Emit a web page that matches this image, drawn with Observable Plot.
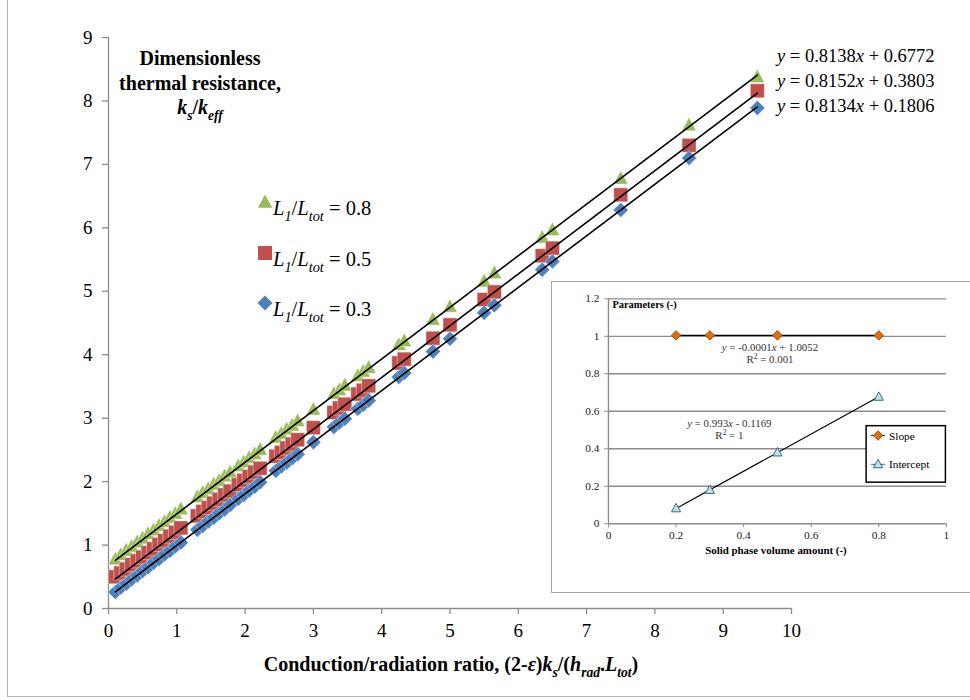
<!DOCTYPE html>
<html>
<head>
<meta charset="utf-8">
<script src="https://cdn.jsdelivr.net/npm/d3@7"></script>
<script src="https://cdn.jsdelivr.net/npm/@observablehq/plot@0.6"></script>
<style>
  html, body { margin: 0; padding: 0; background: #fff; overflow: hidden; }
  #wrap { position: relative; width: 970px; height: 700px; overflow: hidden; }
  #frame { position: absolute; left: 7px; top: -4px; width: 990px; height: 701px; border: 1.5px solid #b4b4b4; box-sizing: border-box; }
  #main { position: absolute; left: 0; top: 0; }
  #inset { position: absolute; left: 551px; top: 281px; width: 440px; height: 312px; border: 1.5px solid #a6a6a6; background: #fff; box-sizing: border-box; }
  #inset svg { position: absolute; left: -1.5px; top: -1.5px; }
</style>
</head>
<body>
<div id="wrap"><div id="frame"></div><div id="main"></div><div id="inset"></div></div>
<script>
const FONT = '"Liberation Serif", "Times New Roman", serif';

// ---------------- data: main chart ----------------
const xValues = [0.1, 0.18, 0.26, 0.34, 0.42, 0.5, 0.58, 0.66, 0.74, 0.82, 0.9, 0.98, 1.06,
  1.3, 1.38, 1.46, 1.54, 1.62, 1.7, 1.78, 1.9, 1.98, 2.06, 2.14, 2.22,
  2.45, 2.53, 2.61, 2.69, 2.77, 3.0, 3.3, 3.38, 3.46, 3.65, 3.73, 3.81,
  4.25, 4.33, 4.75, 5.0, 5.5, 5.65, 6.35, 6.5, 7.5, 8.5, 9.5];
const yRatio08 = [0.78, 0.85, 0.92, 0.98, 1.05, 1.11, 1.18, 1.24, 1.31, 1.37, 1.44, 1.50, 1.57,
  1.76, 1.83, 1.89, 1.96, 2.02, 2.09, 2.15, 2.25, 2.31, 2.38, 2.44, 2.51,
  2.70, 2.76, 2.83, 2.89, 2.96, 3.14, 3.39, 3.45, 3.52, 3.67, 3.74, 3.80,
  4.16, 4.22, 4.56, 4.76, 5.16, 5.29, 5.85, 5.97, 6.78, 7.62, 8.38];
const yRatio05 = [0.50, 0.56, 0.62, 0.69, 0.75, 0.81, 0.88, 0.94, 1.01, 1.07, 1.14, 1.20, 1.27,
  1.46, 1.53, 1.59, 1.66, 1.72, 1.79, 1.85, 1.95, 2.02, 2.08, 2.15, 2.21,
  2.40, 2.46, 2.53, 2.59, 2.66, 2.85, 3.09, 3.16, 3.22, 3.38, 3.44, 3.51,
  3.87, 3.93, 4.26, 4.47, 4.87, 4.99, 5.56, 5.68, 6.52, 7.30, 8.16];
const yRatio03 = [0.26, 0.33, 0.39, 0.46, 0.52, 0.59, 0.65, 0.72, 0.78, 0.85, 0.91, 0.98, 1.04,
  1.24, 1.30, 1.37, 1.43, 1.50, 1.56, 1.63, 1.73, 1.79, 1.86, 1.92, 1.99,
  2.17, 2.24, 2.30, 2.37, 2.43, 2.62, 2.86, 2.93, 2.99, 3.15, 3.21, 3.28,
  3.65, 3.71, 4.05, 4.25, 4.66, 4.78, 5.34, 5.47, 6.28, 7.10, 7.89];
const seriesNames = ["0.8", "0.5", "0.3"];
const seriesColors = ["#9bbb59", "#c0504d", "#4f81bd"];
const fitSlopes = [0.8138, 0.8152, 0.8134];
const fitIntercepts = [0.6772, 0.3803, 0.1806];
const fitLabels = ["y = 0.8138x + 0.6772", "y = 0.8152x + 0.3803", "y = 0.8134x + 0.1806"];
const xTicks = [0, 1, 2, 3, 4, 5, 6, 7, 8, 9, 10];
const yTicks = [0, 1, 2, 3, 4, 5, 6, 7, 8, 9];

// ---------------- data: inset ----------------
const volumeAmount = [0.2, 0.3, 0.5, 0.8];
const slopeParam = [1.005, 1.005, 1.005, 1.005];
const interceptParam = [0.082, 0.18, 0.38, 0.677];
const insetFitSlopes = [-0.0001, 0.993];
const insetFitIntercepts = [1.0052, -0.1169];
const insetXTicks = [0, 0.2, 0.4, 0.6, 0.8, 1];
const insetYTicks = [0, 0.2, 0.4, 0.6, 0.8, 1, 1.2];

// ---------------- symbols ----------------
const triSym = { draw(ctx, size) { const r = Math.sqrt(size / Math.PI);
  ctx.moveTo(0, -r * 1.05); ctx.lineTo(r, r * 0.8); ctx.lineTo(-r, r * 0.8); ctx.closePath(); } };
const sqSym = { draw(ctx, size) { const r = Math.sqrt(size / Math.PI);
  ctx.rect(-r, -r, 2 * r, 2 * r); } };
const diaSym = { draw(ctx, size) { const r = Math.sqrt(size / Math.PI);
  ctx.moveTo(0, -r); ctx.lineTo(r, 0); ctx.lineTo(0, r); ctx.lineTo(-r, 0); ctx.closePath(); } };
const syms = [triSym, sqSym, diaSym];
const symR = [7.2, 7, 7.5];

const yArrays = [yRatio08, yRatio05, yRatio03];
const points = yArrays.map((ys, s) => xValues.map((x, i) => ({ x, y: ys[i], s })));
const trends = fitSlopes.map((m, s) => {
  const x0 = xValues[0], x1 = xValues[xValues.length - 1];
  return [{ x: x0, y: m * x0 + fitIntercepts[s] }, { x: x1, y: m * x1 + fitIntercepts[s] }];
});

const main = Plot.plot({
  width: 970, height: 700,
  marginLeft: 108, marginRight: 179, marginTop: 37, marginBottom: 92,
  x: { domain: [0, 10] },
  y: { domain: [0, 9] },
  style: { fontFamily: FONT, fontSize: "19px", color: "#000", background: "transparent", overflow: "visible" },
  marks: [
    Plot.ruleY([0], { stroke: "#8c8c8c", strokeWidth: 1.3 }),
    Plot.ruleX([0], { stroke: "#8c8c8c", strokeWidth: 1.3 }),
    Plot.axisX({ ticks: xTicks, tickSize: 6, tickPadding: 9, stroke: "#8c8c8c", strokeWidth: 1.3, fill: "#000", fontSize: 19, label: null, tickFormat: d => String(d) }),
    Plot.axisY({ ticks: yTicks, tickSize: 6, tickPadding: 10, stroke: "#8c8c8c", strokeWidth: 1.3, fill: "#000", fontSize: 19, label: null, tickFormat: d => String(d) }),
    ...points.map((pts, s) => Plot.dot(pts, { x: "x", y: "y", symbol: () => syms[s], r: symR[s], fill: seriesColors[s], stroke: "#fff", strokeWidth: 0.4 })),
    ...trends.map(t => Plot.line(t, { x: "x", y: "y", stroke: "#000", strokeWidth: 1.6 }))
  ]
});
document.getElementById("main").appendChild(main);

// rich text helper (italic / subscript / superscript tspans)
function rich(svg, x, y, parts, { size = 18, anchor = "start", weight = "normal", fill = "#000", sub = 0.68 } = {}) {
  const t = svg.append("text").attr("x", x).attr("y", y).attr("font-size", size)
    .attr("text-anchor", anchor).attr("font-weight", weight).attr("fill", fill)
    .attr("font-family", FONT);
  let shift = 0;
  for (const p of parts) {
    const [str, f] = Array.isArray(p) ? p : [p, ""];
    const ts = t.append("tspan").text(str);
    if (f.includes("i")) ts.attr("font-style", "italic");
    const want = f.includes("s") ? size * 0.3 : f.includes("u") ? -size * 0.35 : 0;
    if (want !== shift) { ts.attr("dy", want - shift); shift = want; }
    if (f.includes("s") || f.includes("u")) ts.attr("font-size", size * sub);
  }
  return t;
}

const ms = d3.select(main);
const ann = ms.append("g");
// title inside plot
rich(ann, 200, 65, ["Dimensionless"], { size: 20, anchor: "middle", weight: "bold" });
rich(ann, 200, 90, ["thermal resistance,"], { size: 20, anchor: "middle", weight: "bold" });
rich(ann, 200, 114, [["k", "i"], ["s", "is"], ["/", ""], ["k", "i"], ["eff", "is"]], { size: 20, anchor: "middle", weight: "bold" });

// fitted equations
fitLabels.forEach((lab, i) => {
  const m = lab.match(/^y = ([\d.]+)x \+ ([\d.]+)$/);
  rich(ann, 777, 61.5 + i * 25, [["y", "i"], " = " + m[1], ["x", "i"], " + " + m[2]], { size: 18.5 });
});

// legend
const legY = [202, 253, 303];
seriesNames.forEach((nm, s) => {
  const p = d3.path(); syms[s].draw(p, Math.PI * symR[s] * symR[s]);
  ann.append("path").attr("d", p.toString()).attr("transform", `translate(265,${legY[s]})`).attr("fill", seriesColors[s]);
  rich(ann, 273, legY[s] + 12.5, [["L", "i"], ["1", "is"], ["/", ""], ["L", "i"], ["tot", "is"], " = " + nm], { size: 20.5, sub: 0.7 });
});

// x-axis title
rich(ann, 451, 671, ["Conduction/radiation ratio, (2-", ["ε", "i"], ")", ["k", "i"], ["s", "is"], "/(", ["h", "i"], ["rad", "is"], ".", ["L", "i"], ["tot", "is"], ")"], { size: 20, anchor: "middle", weight: "bold" });

// ---------------- inset ----------------
const IW = 442, IH = 312;
const slopePts = volumeAmount.map((x, i) => ({ x, y: slopeParam[i] }));
const intPts = volumeAmount.map((x, i) => ({ x, y: interceptParam[i] }));
const insetTrends = insetFitSlopes.map((m, k) => {
  const x0 = volumeAmount[0], x1 = volumeAmount[volumeAmount.length - 1];
  return [{ x: x0, y: m * x0 + insetFitIntercepts[k] }, { x: x1, y: m * x1 + insetFitIntercepts[k] }];
});
const insetDia = { draw(ctx, size) { const r = Math.sqrt(size / Math.PI);
  ctx.moveTo(0, -r); ctx.lineTo(r, 0); ctx.lineTo(0, r); ctx.lineTo(-r, 0); ctx.closePath(); } };
const insetTri = { draw(ctx, size) { const r = Math.sqrt(size / Math.PI);
  ctx.moveTo(0, -r * 1.1); ctx.lineTo(r, r * 0.75); ctx.lineTo(-r, r * 0.75); ctx.closePath(); } };

const inset = Plot.plot({
  width: IW, height: IH,
  marginLeft: 57.5, marginRight: IW - 398.5, marginTop: 17.5, marginBottom: IH - 244.5,
  x: { domain: [0, 1] },
  y: { domain: [0, 1.2] },
  style: { fontFamily: FONT, fontSize: "11px", color: "#000", background: "transparent", overflow: "visible" },
  marks: [
    Plot.ruleY(insetYTicks, { stroke: "#8c8c8c", strokeWidth: 1.4 }),
    Plot.ruleX([0], { stroke: "#8c8c8c", strokeWidth: 1.4 }),
    Plot.axisX({ ticks: insetXTicks, tickSize: 4, tickPadding: 3, stroke: "#8c8c8c", fill: "#222", fontSize: 11.5, label: null, tickFormat: d => String(d) }),
    Plot.axisY({ ticks: insetYTicks, tickSize: 4, tickPadding: 5, stroke: "#8c8c8c", fill: "#222", fontSize: 11.5, label: null, tickFormat: d => String(d) }),
    ...insetTrends.map(t => Plot.line(t, { x: "x", y: "y", stroke: "#000", strokeWidth: 1.2 })),
    Plot.dot(slopePts, { x: "x", y: "y", symbol: () => insetDia, r: 4.8, fill: "#e46c0a", stroke: "#7f3d05", strokeWidth: 0.8 }),
    Plot.dot(intPts, { x: "x", y: "y", symbol: () => insetTri, r: 4.6, fill: "#c6e0e8", stroke: "#2e6e80", strokeWidth: 1 })
  ]
});
document.getElementById("inset").appendChild(inset);
const is = d3.select(inset);
rich(is, 62, 27, ["Parameters (-)"], { size: 10.5, weight: "bold" });
rich(is, 221, 71, [["y", "i"], " = -0.0001", ["x", "i"], " + 1.0052"], { size: 11, anchor: "middle", fill: "#333" });
rich(is, 221, 83, ["R", ["2", "u"], " = 0.001"], { size: 11, anchor: "middle", fill: "#333" });
rich(is, 180, 147, [["y", "i"], " = 0.993", ["x", "i"], " - 0.1169"], { size: 11, anchor: "middle", fill: "#333" });
rich(is, 180, 159, ["R", ["2", "u"], " = 1"], { size: 11, anchor: "middle", fill: "#333" });
rich(is, 227, 276, ["Solid phase volume amount (-)"], { size: 11, anchor: "middle", weight: "bold" });

// inset legend box
const lg = is.append("g").attr("transform", "translate(318,146)");
lg.append("rect").attr("x", 0).attr("y", 0).attr("width", 80).attr("height", 57)
  .attr("fill", "#fff").attr("stroke", "#000").attr("stroke-width", 1.5);
lg.append("line").attr("x1", 5).attr("x2", 19).attr("y1", 10).attr("y2", 10).attr("stroke", "#000");
{ const p = d3.path(); insetDia.draw(p, Math.PI * 4.8 * 4.8);
  lg.append("path").attr("d", p.toString()).attr("transform", "translate(12,10)").attr("fill", "#e46c0a").attr("stroke", "#7f3d05").attr("stroke-width", 0.8); }
rich(lg, 23, 14, ["Slope"], { size: 11.5 });
lg.append("line").attr("x1", 5).attr("x2", 19).attr("y1", 39).attr("y2", 39).attr("stroke", "#2e6e80");
{ const p = d3.path(); insetTri.draw(p, Math.PI * 4.6 * 4.6);
  lg.append("path").attr("d", p.toString()).attr("transform", "translate(12,39)").attr("fill", "#c6e0e8").attr("stroke", "#2e6e80").attr("stroke-width", 1); }
rich(lg, 23, 43, ["Intercept"], { size: 11.5 });
</script>
</body>
</html>
